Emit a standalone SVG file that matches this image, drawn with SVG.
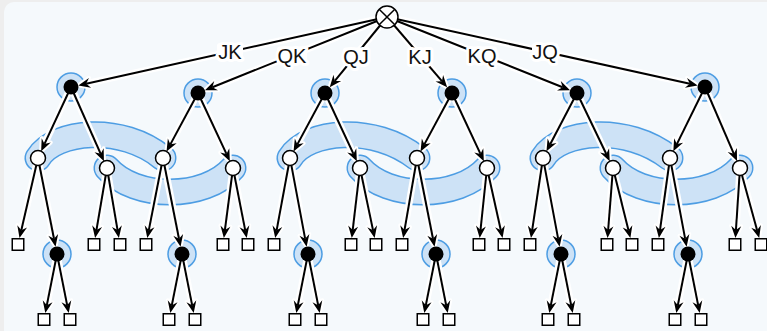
<svg xmlns="http://www.w3.org/2000/svg" width="767" height="331" viewBox="0 0 767 331">
<style>
.band-o{fill:none;stroke:#4d9de3;stroke-width:27;stroke-linecap:round}
.band-f{fill:none;stroke:#cde2f6;stroke-width:24;stroke-linecap:round}
.ring{fill:#cde2f6;stroke:#4d9de3;stroke-width:1.5}
.h{fill:none;stroke:#fff;stroke-width:7;marker-end:url(#ah)}
.e{fill:none;stroke:#000;stroke-width:2;marker-end:url(#ar)}
.p1{fill:#000}
.p2{fill:#fff;stroke:#000;stroke-width:1.5}
.term{fill:#fff;stroke:#000;stroke-width:1.5}
.lbg{fill:#fff}
.lbl{font-family:"Liberation Sans",Arial,sans-serif;font-size:20px;text-anchor:middle;fill:#111;stroke:#fff;stroke-width:6;stroke-linejoin:round;paint-order:stroke}
</style>
<defs>
<marker id="ar" markerUnits="userSpaceOnUse" orient="auto" overflow="visible" refX="0" refY="0" markerWidth="1" markerHeight="1"><path d="M8,0 L-4,-5 L0,0 L-4,5 Z" fill="#000"/></marker>
<marker id="ah" markerUnits="userSpaceOnUse" orient="auto" overflow="visible" refX="0" refY="0" markerWidth="1" markerHeight="1"><path d="M8,0 L-4,-5 L0,0 L-4,5 Z" fill="#fff" stroke="#fff" stroke-width="4" stroke-linejoin="round"/></marker>
<rect id="sq" x="-5.75" y="-5.75" width="11.5" height="11.5"/>
</defs>
<rect width="767" height="331" fill="#eeeeee"/>
<rect x="4" y="2" width="780" height="345" rx="10" fill="#f5f9fc"/>

<g id="infosets">
<path class="band-o" d="M38,158 C55,130 122,124 163,158"/>
<path class="band-f" d="M38,158 C55,130 122,124 163,158"/>
<path class="band-o" d="M107,168 C135,200 205,200 233,168"/>
<path class="band-f" d="M107,168 C135,200 205,200 233,168"/>
<path class="band-o" d="M290,158 C307,130 374,124 417,158"/>
<path class="band-f" d="M290,158 C307,130 374,124 417,158"/>
<path class="band-o" d="M360,168 C388,200 458,200 487,168"/>
<path class="band-f" d="M360,168 C388,200 458,200 487,168"/>
<path class="band-o" d="M543,158 C560,130 627,124 670,158"/>
<path class="band-f" d="M543,158 C560,130 627,124 670,158"/>
<path class="band-o" d="M613,168 C641,200 711,200 740,168"/>
<path class="band-f" d="M613,168 C641,200 711,200 740,168"/>
<circle class="ring" cx="71" cy="87" r="14"/>
<circle class="ring" cx="198" cy="93" r="14"/>
<circle class="ring" cx="325" cy="93" r="14"/>
<circle class="ring" cx="452" cy="93" r="14"/>
<circle class="ring" cx="577" cy="93" r="14"/>
<circle class="ring" cx="705" cy="87" r="14"/>
<circle class="ring" cx="57" cy="254" r="14"/>
<circle class="ring" cx="182" cy="254" r="14"/>
<circle class="ring" cx="308" cy="254" r="14"/>
<circle class="ring" cx="436" cy="254" r="14"/>
<circle class="ring" cx="561" cy="254" r="14"/>
<circle class="ring" cx="688" cy="254" r="14"/>
</g>

<g id="connectors">
<g id="halos">
<path class="h" d="M387,17 L86.13,83.65"/>
<path class="h" d="M387,17 L212.38,87.22"/>
<path class="h" d="M387,17 L334.80,80.99"/>
<path class="h" d="M387,17 L441.93,81.22"/>
<path class="h" d="M387,17 L562.61,87.24"/>
<path class="h" d="M387,17 L689.87,83.67"/>
<path class="h" d="M71,87 L44.53,143.94"/>
<path class="h" d="M71,87 L100.70,153.84"/>
<path class="h" d="M198,93 L170.35,144.36"/>
<path class="h" d="M198,93 L226.45,153.95"/>
<path class="h" d="M325,93 L297.35,144.36"/>
<path class="h" d="M325,93 L353.45,153.95"/>
<path class="h" d="M452,93 L424.35,144.36"/>
<path class="h" d="M452,93 L480.45,153.95"/>
<path class="h" d="M577,93 L550.19,144.26"/>
<path class="h" d="M577,93 L606.29,154.03"/>
<path class="h" d="M705,87 L676.86,144.09"/>
<path class="h" d="M705,87 L733.86,153.78"/>
<path class="h" d="M38,158 L21.30,230.21"/>
<path class="h" d="M38,158 L53.99,238.79"/>
<path class="h" d="M107,168 L96.44,230.11"/>
<path class="h" d="M107,168 L117.56,230.11"/>
<path class="h" d="M163,158 L148.82,230.15"/>
<path class="h" d="M163,158 L178.99,238.79"/>
<path class="h" d="M233,168 L224.89,230.07"/>
<path class="h" d="M233,168 L245.19,230.15"/>
<path class="h" d="M290,158 L276.66,230.13"/>
<path class="h" d="M290,158 L305.15,238.77"/>
<path class="h" d="M360,168 L352.69,230.05"/>
<path class="h" d="M360,168 L373.00,230.17"/>
<path class="h" d="M417,158 L404.50,230.12"/>
<path class="h" d="M417,158 L432.99,238.79"/>
<path class="h" d="M487,168 L480.51,230.04"/>
<path class="h" d="M487,168 L500.82,230.19"/>
<path class="h" d="M543,158 L532.17,230.09"/>
<path class="h" d="M543,158 L558.15,238.77"/>
<path class="h" d="M613,168 L608.14,230.02"/>
<path class="h" d="M613,168 L628.46,230.24"/>
<path class="h" d="M670,158 L660.00,230.08"/>
<path class="h" d="M670,158 L685.15,238.77"/>
<path class="h" d="M740,168 L735.94,230.02"/>
<path class="h" d="M740,168 L757.10,230.29"/>
<path class="h" d="M57,254 L46.85,305.15"/>
<path class="h" d="M57,254 L67.15,305.15"/>
<path class="h" d="M182,254 L171.85,305.15"/>
<path class="h" d="M182,254 L192.15,305.15"/>
<path class="h" d="M308,254 L297.85,305.15"/>
<path class="h" d="M308,254 L318.15,305.15"/>
<path class="h" d="M436,254 L425.85,305.15"/>
<path class="h" d="M436,254 L446.15,305.15"/>
<path class="h" d="M561,254 L550.85,305.15"/>
<path class="h" d="M561,254 L571.15,305.15"/>
<path class="h" d="M688,254 L677.85,305.15"/>
<path class="h" d="M688,254 L698.15,305.15"/>
</g>
<g id="lines">
<path class="e" d="M387,17 L86.13,83.65"/>
<path class="e" d="M387,17 L212.38,87.22"/>
<path class="e" d="M387,17 L334.80,80.99"/>
<path class="e" d="M387,17 L441.93,81.22"/>
<path class="e" d="M387,17 L562.61,87.24"/>
<path class="e" d="M387,17 L689.87,83.67"/>
<path class="e" d="M71,87 L44.53,143.94"/>
<path class="e" d="M71,87 L100.70,153.84"/>
<path class="e" d="M198,93 L170.35,144.36"/>
<path class="e" d="M198,93 L226.45,153.95"/>
<path class="e" d="M325,93 L297.35,144.36"/>
<path class="e" d="M325,93 L353.45,153.95"/>
<path class="e" d="M452,93 L424.35,144.36"/>
<path class="e" d="M452,93 L480.45,153.95"/>
<path class="e" d="M577,93 L550.19,144.26"/>
<path class="e" d="M577,93 L606.29,154.03"/>
<path class="e" d="M705,87 L676.86,144.09"/>
<path class="e" d="M705,87 L733.86,153.78"/>
<path class="e" d="M38,158 L21.30,230.21"/>
<path class="e" d="M38,158 L53.99,238.79"/>
<path class="e" d="M107,168 L96.44,230.11"/>
<path class="e" d="M107,168 L117.56,230.11"/>
<path class="e" d="M163,158 L148.82,230.15"/>
<path class="e" d="M163,158 L178.99,238.79"/>
<path class="e" d="M233,168 L224.89,230.07"/>
<path class="e" d="M233,168 L245.19,230.15"/>
<path class="e" d="M290,158 L276.66,230.13"/>
<path class="e" d="M290,158 L305.15,238.77"/>
<path class="e" d="M360,168 L352.69,230.05"/>
<path class="e" d="M360,168 L373.00,230.17"/>
<path class="e" d="M417,158 L404.50,230.12"/>
<path class="e" d="M417,158 L432.99,238.79"/>
<path class="e" d="M487,168 L480.51,230.04"/>
<path class="e" d="M487,168 L500.82,230.19"/>
<path class="e" d="M543,158 L532.17,230.09"/>
<path class="e" d="M543,158 L558.15,238.77"/>
<path class="e" d="M613,168 L608.14,230.02"/>
<path class="e" d="M613,168 L628.46,230.24"/>
<path class="e" d="M670,158 L660.00,230.08"/>
<path class="e" d="M670,158 L685.15,238.77"/>
<path class="e" d="M740,168 L735.94,230.02"/>
<path class="e" d="M740,168 L757.10,230.29"/>
<path class="e" d="M57,254 L46.85,305.15"/>
<path class="e" d="M57,254 L67.15,305.15"/>
<path class="e" d="M182,254 L171.85,305.15"/>
<path class="e" d="M182,254 L192.15,305.15"/>
<path class="e" d="M308,254 L297.85,305.15"/>
<path class="e" d="M308,254 L318.15,305.15"/>
<path class="e" d="M436,254 L425.85,305.15"/>
<path class="e" d="M436,254 L446.15,305.15"/>
<path class="e" d="M561,254 L550.85,305.15"/>
<path class="e" d="M561,254 L571.15,305.15"/>
<path class="e" d="M688,254 L677.85,305.15"/>
<path class="e" d="M688,254 L698.15,305.15"/>
</g>
<g id="labels">
<rect class="lbg" x="217" y="43" width="26" height="18" rx="3"/>
<rect class="lbg" x="277" y="46.5" width="30" height="18" rx="3"/>
<rect class="lbg" x="343" y="47.5" width="26" height="18" rx="3"/>
<rect class="lbg" x="408" y="47.5" width="24" height="18" rx="3"/>
<rect class="lbg" x="467" y="46.5" width="30" height="18" rx="3"/>
<rect class="lbg" x="532" y="43" width="26" height="18" rx="3"/>
<text class="lbl" x="230" y="59">JK</text>
<text class="lbl" x="292" y="62.5">QK</text>
<text class="lbl" x="356" y="63.5">QJ</text>
<text class="lbl" x="420" y="63.5">KJ</text>
<text class="lbl" x="482" y="62.5">KQ</text>
<text class="lbl" x="545" y="59">JQ</text>
</g>
</g>

<g id="root"><circle cx="387" cy="17" r="11" fill="#fff" stroke="#000" stroke-width="1.5"/><path d="M379.2,9.2 L394.8,24.8 M394.8,9.2 L379.2,24.8" stroke="#000" stroke-width="1.5"/></g>

<g id="n-JK"><circle class="p1" cx="71" cy="87" r="7.5"/></g>
<g id="n-QK"><circle class="p1" cx="198" cy="93" r="7.5"/></g>
<g id="n-QJ"><circle class="p1" cx="325" cy="93" r="7.5"/></g>
<g id="n-KJ"><circle class="p1" cx="452" cy="93" r="7.5"/></g>
<g id="n-KQ"><circle class="p1" cx="577" cy="93" r="7.5"/></g>
<g id="n-JQ"><circle class="p1" cx="705" cy="87" r="7.5"/></g>

<g id="n-JK-c"><circle class="p2" cx="38" cy="158" r="7.5"/></g>
<g id="n-JK-b"><circle class="p2" cx="107" cy="168" r="7.5"/></g>
<g id="n-QK-c"><circle class="p2" cx="163" cy="158" r="7.5"/></g>
<g id="n-QK-b"><circle class="p2" cx="233" cy="168" r="7.5"/></g>
<g id="n-QJ-c"><circle class="p2" cx="290" cy="158" r="7.5"/></g>
<g id="n-QJ-b"><circle class="p2" cx="360" cy="168" r="7.5"/></g>
<g id="n-KJ-c"><circle class="p2" cx="417" cy="158" r="7.5"/></g>
<g id="n-KJ-b"><circle class="p2" cx="487" cy="168" r="7.5"/></g>
<g id="n-KQ-c"><circle class="p2" cx="543" cy="158" r="7.5"/></g>
<g id="n-KQ-b"><circle class="p2" cx="613" cy="168" r="7.5"/></g>
<g id="n-JQ-c"><circle class="p2" cx="670" cy="158" r="7.5"/></g>
<g id="n-JQ-b"><circle class="p2" cx="740" cy="168" r="7.5"/></g>

<g id="n-JK-cb"><circle class="p1" cx="57" cy="254" r="7.5"/></g>
<g id="n-QK-cb"><circle class="p1" cx="182" cy="254" r="7.5"/></g>
<g id="n-QJ-cb"><circle class="p1" cx="308" cy="254" r="7.5"/></g>
<g id="n-KJ-cb"><circle class="p1" cx="436" cy="254" r="7.5"/></g>
<g id="n-KQ-cb"><circle class="p1" cx="561" cy="254" r="7.5"/></g>
<g id="n-JQ-cb"><circle class="p1" cx="688" cy="254" r="7.5"/></g>

<g id="terminals">
<g id="t1"><use href="#sq" class="term" x="18" y="244.5"/></g>
<g id="t2"><use href="#sq" class="term" x="94" y="244.5"/></g>
<g id="t3"><use href="#sq" class="term" x="120" y="244.5"/></g>
<g id="t4"><use href="#sq" class="term" x="146" y="244.5"/></g>
<g id="t5"><use href="#sq" class="term" x="223" y="244.5"/></g>
<g id="t6"><use href="#sq" class="term" x="248" y="244.5"/></g>
<g id="t7"><use href="#sq" class="term" x="274" y="244.5"/></g>
<g id="t8"><use href="#sq" class="term" x="351" y="244.5"/></g>
<g id="t9"><use href="#sq" class="term" x="376" y="244.5"/></g>
<g id="t10"><use href="#sq" class="term" x="402" y="244.5"/></g>
<g id="t11"><use href="#sq" class="term" x="479" y="244.5"/></g>
<g id="t12"><use href="#sq" class="term" x="504" y="244.5"/></g>
<g id="t13"><use href="#sq" class="term" x="530" y="244.5"/></g>
<g id="t14"><use href="#sq" class="term" x="607" y="244.5"/></g>
<g id="t15"><use href="#sq" class="term" x="632" y="244.5"/></g>
<g id="t16"><use href="#sq" class="term" x="658" y="244.5"/></g>
<g id="t17"><use href="#sq" class="term" x="735" y="244.5"/></g>
<g id="t18"><use href="#sq" class="term" x="761" y="244.5"/></g>
<g id="t19"><use href="#sq" class="term" x="44" y="319.5"/></g>
<g id="t20"><use href="#sq" class="term" x="70" y="319.5"/></g>
<g id="t21"><use href="#sq" class="term" x="169" y="319.5"/></g>
<g id="t22"><use href="#sq" class="term" x="195" y="319.5"/></g>
<g id="t23"><use href="#sq" class="term" x="295" y="319.5"/></g>
<g id="t24"><use href="#sq" class="term" x="321" y="319.5"/></g>
<g id="t25"><use href="#sq" class="term" x="423" y="319.5"/></g>
<g id="t26"><use href="#sq" class="term" x="449" y="319.5"/></g>
<g id="t27"><use href="#sq" class="term" x="548" y="319.5"/></g>
<g id="t28"><use href="#sq" class="term" x="574" y="319.5"/></g>
<g id="t29"><use href="#sq" class="term" x="675" y="319.5"/></g>
<g id="t30"><use href="#sq" class="term" x="701" y="319.5"/></g>
</g>
</svg>
